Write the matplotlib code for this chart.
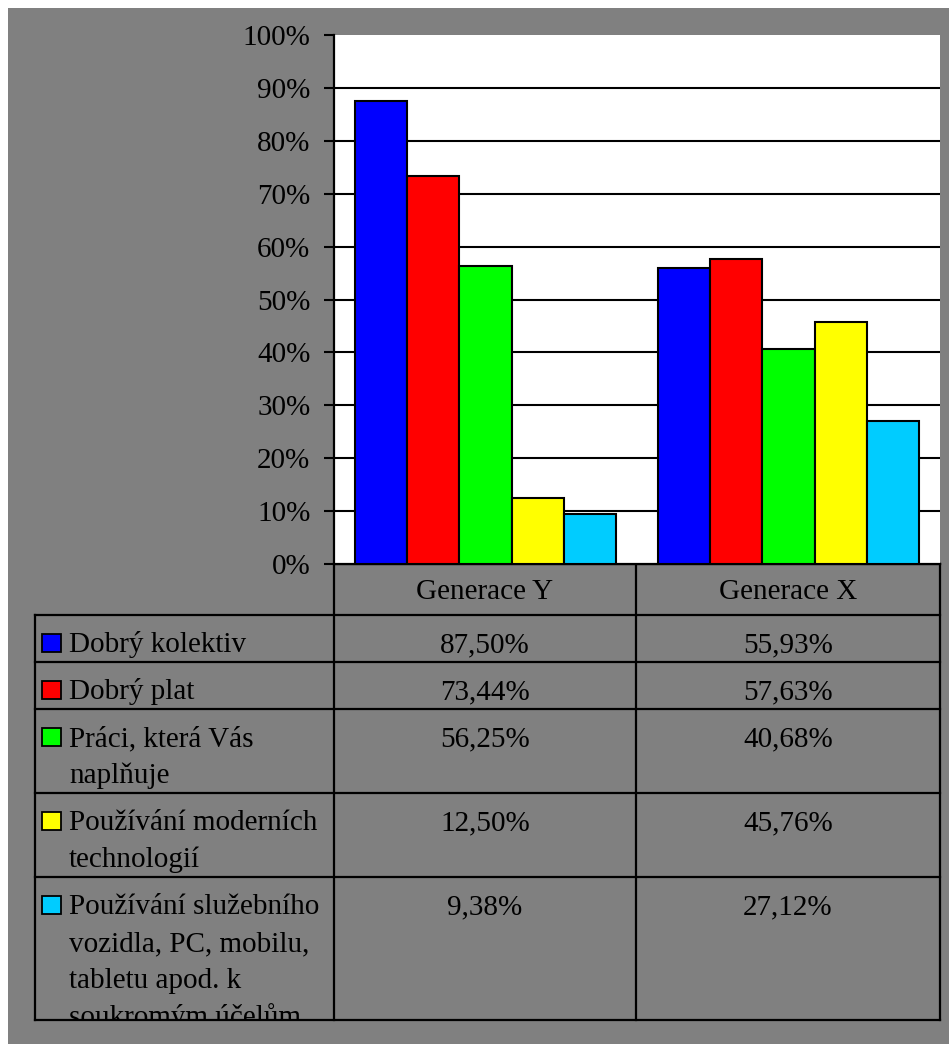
from matplotlib import pyplot as plt
from matplotlib.patches import Rectangle
from matplotlib.transforms import Bbox, TransformedBbox
import numpy as np

plt.rcParams['font.family'] = ['Liberation Serif', 'DejaVu Serif']

# data
groups = ['Generace Y', 'Generace X']
labels = ['Dobrý kolektiv',
          'Dobrý plat',
          'Práci, která Vás\nnaplňuje',
          'Používání moderních\ntechnologií',
          'Používání služebního\nvozidla, PC, mobilu,\ntabletu apod. k\nsoukromým účelům']
genY = [87.50, 73.44, 56.25, 12.50, 9.38]
genX = [55.93, 57.63, 40.68, 45.76, 27.12]
colors = ['#0000FF', '#FF0000', '#00FF00', '#FFFF00', '#00CCFF']
yticks = [0, 10, 20, 30, 40, 50, 60, 70, 80, 90, 100]

W, H = 949, 1044
GREY = '#808080'
FS = 21

fig = plt.figure(figsize=(W / 100, H / 100), dpi=100, facecolor='white')

# background / table layer, works in pixel coordinates
bg = fig.add_axes([0, 0, 1, 1], zorder=0)
bg.set_xlim(0, W)
bg.set_ylim(H, 0)
bg.axis('off')
bg.add_patch(Rectangle((8, 8), W - 8, H - 8, facecolor=GREY, edgecolor='none'))

# plot area in pixels
pl, pr, pt, pb = 334, 940, 35, 564
ax = fig.add_axes([pl / W, 1 - pb / H, (pr - pl) / W, (pb - pt) / H], zorder=1)
ax.set_facecolor('white')

values = np.array([genY, genX])
x = np.arange(len(groups))
bw = 0.1723
for i, c in enumerate(colors):
    ax.bar(x + (i - 2) * bw, values[:, i], width=bw, color=c,
           edgecolor='black', linewidth=1.5, zorder=3)

ax.set_xlim(-0.5, len(groups) - 0.5)
ax.set_ylim(0, 100)
ax.set_yticks(yticks)
ax.set_yticklabels(['{}%'.format(t) for t in yticks], fontsize=FS)
ax.set_xticks([])
ax.hlines(yticks[1:-1], -0.5, len(groups) - 0.5, colors='black', linewidth=1.5, zorder=2)
ax.tick_params(axis='y', direction='out', length=7, width=1.5, pad=10, colors='black')
for s in ['top', 'right']:
    ax.spines[s].set_visible(False)
ax.spines['left'].set_linewidth(1.6)
ax.spines['bottom'].set_linewidth(1.6)

# data table below the chart
tl, tb = 35, 1020
col_x = [pl, 636, pr]
lw = 1.6
line_h = 37
row_tops = [615]
for lab in labels:
    row_tops.append(row_tops[-1] + 10 + line_h * len(lab.split('\n')))
row_bounds = [min(r, tb) for r in row_tops]

# header row
bg.plot([pl, pr], [pb, pb], color='black', lw=lw)
for j, g in enumerate(groups):
    bg.text((col_x[j] + col_x[j + 1]) / 2, pb + 35, g, fontsize=FS,
            ha='center', va='baseline')

for r in row_bounds:
    bg.plot([tl, pr], [r, r], color='black', lw=lw)
for cx in col_x:
    bg.plot([cx, cx], [pb, tb], color='black', lw=lw)
bg.plot([tl, tl], [row_bounds[0], tb], color='black', lw=lw)

# text that runs past the table bottom gets cut off
clip = TransformedBbox(Bbox.from_extents(tl, row_bounds[0], pr, tb), bg.transData)

for k, lab in enumerate(labels):
    top = row_tops[k]
    bg.add_patch(Rectangle((42, top + 19), 19, 18, facecolor=colors[k],
                           edgecolor='black', linewidth=1.3))
    for n, line in enumerate(lab.split('\n')):
        t = bg.text(69, top + line_h + n * line_h, line, fontsize=FS,
                    ha='left', va='baseline')
        t.set_clip_box(clip)
        t.set_clip_on(True)
    for j in range(len(groups)):
        s = '{:.2f}%'.format(values[j, k]).replace('.', ',')
        bg.text((col_x[j] + col_x[j + 1]) / 2, top + line_h, s, fontsize=FS,
                ha='center', va='baseline')

fig.savefig('out.png', dpi=100, facecolor='white')
